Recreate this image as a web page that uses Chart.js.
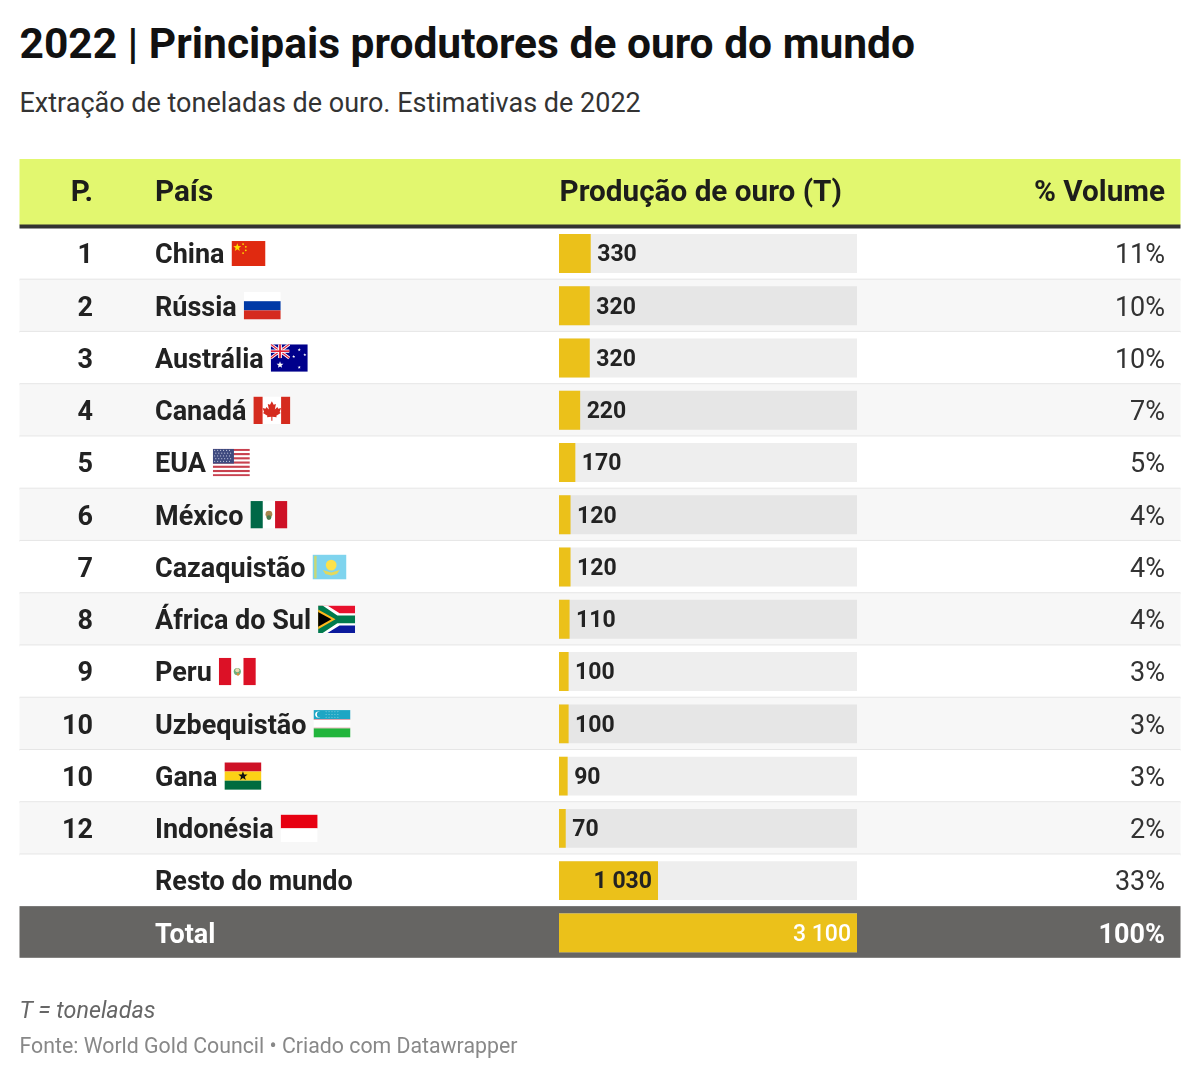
<!DOCTYPE html>
<html lang="pt">
<head>
<meta charset="utf-8">
<title>Principais produtores de ouro do mundo</title>
<script src="https://cdn.jsdelivr.net/npm/chart.js@4"></script>
<style>
    body { margin: 0; background: #fff; font-family: Roboto, sans-serif; }
    .wrap { position: relative; width: 1200px; height: 1078px; overflow: hidden; }
    canvas { position: absolute; left: 0; top: 0; }
    .txt { position: absolute; left: 19.5px; margin: 0; line-height: 1; white-space: nowrap; }
    #title { top: 23px; font-size: 42.5px; font-weight: 700; color: #111; }
    #subtitle { top: 90px; font-size: 27px; font-weight: 400; color: #333; }
    #note { top: 998.5px; font-size: 23.3px; font-style: italic; color: #666; }
    #source { top: 1034.5px; font-size: 21.3px; color: #888; }
</style>
</head>
<body>
<div class="wrap">
    <h1 class="txt" id="title">2022 | Principais produtores de ouro do mundo</h1>
    <p class="txt" id="subtitle">Extração de toneladas de ouro. Estimativas de 2022</p>
    <canvas id="myChart" width="1200" height="1078"></canvas>
    <p class="txt" id="note">T = toneladas</p>
    <p class="txt" id="source">Fonte: World Gold Council • Criado com Datawrapper</p>
</div>
<script>
const ranks = ["1", "2", "3", "4", "5", "6", "7", "8", "9", "10", "10", "12", "", ""];
const countries = ["China", "Rússia", "Austrália", "Canadá", "EUA", "México", "Cazaquistão", "África do Sul", "Peru", "Uzbequistão", "Gana", "Indonésia", "Resto do mundo", "Total"];
const tonnes = [330, 320, 320, 220, 170, 120, 120, 110, 100, 100, 90, 70, 1030, 3100];
const volumes = ["11%", "10%", "10%", "7%", "5%", "4%", "4%", "4%", "3%", "3%", "3%", "2%", "33%", "100%"];
const flagCodes = ["cn", "ru", "au", "ca", "us", "mx", "kz", "za", "pe", "uz", "gh", "id", "", ""];
const headers = ["P.", "País", "Produção de ouro (T)", "% Volume"];
const axisMax = 3100;

const FONT = "Roboto, sans-serif";
const lastRow = countries.length - 1;

// small flag painter, everything in fractions of the flag box
function paintFlag(ctx, code, x, y, w, h) {
    const rect = (c, a, b, cw, ch) => {
        ctx.fillStyle = c;
        ctx.fillRect(x + a * w, y + b * h, cw * w, ch * h);
    };
    const poly = (c, pts) => {
        ctx.fillStyle = c;
        ctx.beginPath();
        pts.forEach((p, i) => ctx[i ? "lineTo" : "moveTo"](x + p[0] * w, y + p[1] * h));
        ctx.closePath();
        ctx.fill();
    };
    const dot = (c, a, b, r) => {
        ctx.fillStyle = c;
        ctx.beginPath();
        ctx.arc(x + a * w, y + b * h, r, 0, Math.PI * 2);
        ctx.fill();
    };
    const star = (c, a, b, r) => {
        ctx.fillStyle = c;
        ctx.beginPath();
        for (let i = 0; i < 10; i++) {
            const rad = i % 2 ? r * 0.42 : r;
            const ang = -Math.PI / 2 + (i * Math.PI) / 5;
            ctx.lineTo(x + a * w + Math.cos(ang) * rad, y + b * h + Math.sin(ang) * rad);
        }
        ctx.closePath();
        ctx.fill();
    };
    const line = (c, lw, a, b, a2, b2) => {
        ctx.strokeStyle = c;
        ctx.lineWidth = lw;
        ctx.beginPath();
        ctx.moveTo(x + a * w, y + b * h);
        ctx.lineTo(x + a2 * w, y + b2 * h);
        ctx.stroke();
    };

    ctx.save();
    ctx.beginPath();
    ctx.rect(x, y, w, h);
    ctx.clip();

    if (code === "cn") {
        rect("#e02a10", 0, 0, 1, 1);
        star("#ffde00", 0.17, 0.26, 4.2);
        [[0.34, 0.12], [0.42, 0.23], [0.42, 0.37], [0.34, 0.48]].forEach((p) => dot("#ffde00", p[0], p[1], 0.9));
    } else if (code === "ru") {
        rect("#ffffff", 0, 0, 1, 1 / 3);
        rect("#0039a6", 0, 1 / 3, 1, 1 / 3);
        rect("#d52b1e", 0, 2 / 3, 1, 1 / 3);
    } else if (code === "au") {
        rect("#00008b", 0, 0, 1, 1);
        line("#fff", 3, 0, 0, 0.5, 0.5);
        line("#fff", 3, 0.5, 0, 0, 0.5);
        line("#e0243a", 1.2, 0, 0, 0.5, 0.5);
        line("#e0243a", 1.2, 0.5, 0, 0, 0.5);
        rect("#fff", 0.2, 0, 0.1, 0.5);
        rect("#fff", 0, 0.19, 0.5, 0.12);
        rect("#e0243a", 0.225, 0, 0.05, 0.5);
        rect("#e0243a", 0, 0.22, 0.5, 0.06);
        star("#fff", 0.25, 0.75, 3.6);
        star("#fff", 0.77, 0.84, 1.7);
        star("#fff", 0.77, 0.2, 1.7);
        star("#fff", 0.62, 0.45, 1.6);
        star("#fff", 0.92, 0.38, 1.6);
    } else if (code === "ca") {
        rect("#fff", 0, 0, 1, 1);
        rect("#d52b1e", 0, 0, 0.25, 1);
        rect("#d52b1e", 0.75, 0, 0.25, 1);
        poly("#d52b1e", [[0.5, 0.17], [0.55, 0.3], [0.61, 0.27], [0.58, 0.47], [0.65, 0.38], [0.67, 0.44], [0.75, 0.42], [0.71, 0.56], [0.74, 0.6], [0.62, 0.7], [0.63, 0.75], [0.515, 0.73], [0.515, 0.88], [0.485, 0.88], [0.485, 0.73], [0.37, 0.75], [0.38, 0.7], [0.26, 0.6], [0.29, 0.56], [0.25, 0.42], [0.33, 0.44], [0.35, 0.38], [0.42, 0.47], [0.39, 0.27], [0.45, 0.3]]);
    } else if (code === "us") {
        rect("#fff", 0, 0, 1, 1);
        for (let i = 0; i < 13; i += 2) rect("#c8414f", 0, i / 13, 1, 1 / 13);
        rect("#3f4a7f", 0, 0, 0.57, 7 / 13);
        for (let r = 0; r < 5; r++) {
            for (let c = 0; c < 6; c++) dot("#b9bdd4", 0.05 + c * 0.08 + (r % 2) * 0.03, 0.06 + r * 0.1, 0.6);
        }
    } else if (code === "mx") {
        rect("#fff", 0, 0, 1, 1);
        rect("#006847", 0, 0, 1 / 3, 1);
        rect("#ce1126", 2 / 3, 0, 1 / 3, 1);
        dot("#a8864f", 0.5, 0.48, 3.4);
        dot("#4f7a4a", 0.5, 0.6, 2.4);
    } else if (code === "kz") {
        rect("#7fd4ee", 0, 0, 1, 1);
        rect("#c9d873", 0.05, 0.05, 0.07, 0.9);
        dot("#fde24a", 0.55, 0.42, 5.4);
        poly("#e3d95c", [[0.3, 0.62], [0.55, 0.72], [0.8, 0.62], [0.72, 0.78], [0.55, 0.84], [0.38, 0.78]]);
    } else if (code === "za") {
        rect("#e8112d", 0, 0, 1, 0.5);
        rect("#0b1a9c", 0, 0.5, 1, 0.5);
        poly("#fff", [[0, 0], [0.25, 0], [0.58, 0.28], [1, 0.28], [1, 0.72], [0.58, 0.72], [0.25, 1], [0, 1]]);
        poly("#007a4d", [[0, 0], [0.12, 0], [0.52, 0.36], [1, 0.36], [1, 0.64], [0.52, 0.64], [0.12, 1], [0, 1]]);
        poly("#ffb81c", [[0, 0.14], [0.47, 0.5], [0, 0.86]]);
        poly("#000", [[0, 0.23], [0.36, 0.5], [0, 0.77]]);
    } else if (code === "pe") {
        rect("#fff", 0, 0, 1, 1);
        rect("#dc1126", 0, 0, 1 / 3, 1);
        rect("#dc1126", 2 / 3, 0, 1 / 3, 1);
        dot("#6fae7a", 0.5, 0.5, 3.6);
        dot("#ecd9b0", 0.5, 0.45, 2);
        dot("#e08a3a", 0.52, 0.6, 1.3);
    } else if (code === "uz") {
        rect("#1ea6c4", 0, 0, 1, 1 / 3);
        rect("#e98a94", 0, 1 / 3, 1, 0.025);
        rect("#fff", 0, 0.36, 1, 0.28);
        rect("#e98a94", 0, 0.64, 1, 0.025);
        rect("#21b53c", 0, 2 / 3, 1, 1 / 3);
        dot("#fff", 0.13, 0.16, 3.1);
        dot("#1ea6c4", 0.17, 0.16, 2.9);
        for (let r = 0; r < 3; r++) {
            for (let c = 0; c < 5; c++) dot("#d8f0f5", 0.34 + c * 0.08, 0.06 + r * 0.1, 0.45);
        }
    } else if (code === "gh") {
        rect("#ce1126", 0, 0, 1, 1 / 3);
        rect("#fcd116", 0, 1 / 3, 1, 1 / 3);
        rect("#006b3f", 0, 2 / 3, 1, 1 / 3);
        star("#111", 0.5, 0.5, 4.8);
    } else if (code === "id") {
        rect("#e70011", 0, 0, 1, 0.5);
        rect("#fff", 0, 0.5, 1, 0.5);
    }
    ctx.restore();
}

// rows, header band and total row go under the bars
const tableBackground = {
    id: "tableBackground",
    beforeDraw(chart) {
        const { ctx, scales } = chart;
        const half = (scales.y.getPixelForValue(1) - scales.y.getPixelForValue(0)) / 2;
        countries.forEach((name, i) => {
            const mid = scales.y.getPixelForValue(i);
            ctx.fillStyle = i === lastRow ? "#666563" : i % 2 ? "#f7f7f7" : "#ffffff";
            ctx.fillRect(19.5, mid - half - (i === lastRow ? 0.6 : 0), 1161, half * 2 - (i === lastRow ? 0.6 : 0));
            if (i < lastRow - 1) {
                ctx.fillStyle = "#e6e6e6";
                ctx.fillRect(19.5, mid + half - 1, 1161, 2);
            }
        });
        ctx.fillStyle = "#e2f76f";
        ctx.fillRect(19.5, 159, 1161, 66);
        ctx.fillStyle = "#333330";
        ctx.fillRect(19.5, 224.5, 1161, 4);
    },
};

// ranks, names, value labels, percentages, flags and the column headers
const tableText = {
    id: "tableText",
    afterDraw(chart) {
        const { ctx, scales } = chart;
        const bars = chart.getDatasetMeta(0).data;
        ctx.save();
        ctx.textBaseline = "middle";

        ctx.fillStyle = "#1d1d1b";
        ctx.font = `700 29.7px ${FONT}`;
        ctx.textAlign = "right";
        ctx.fillText(headers[0], 93, 194);
        ctx.fillText(headers[3], 1165, 194);
        ctx.textAlign = "left";
        ctx.fillText(headers[1], 155, 194);
        ctx.fillText(headers[2], 559.5, 194);

        countries.forEach((name, i) => {
            const row = scales.y.getPixelForValue(i);
            const mid = row + 3;
            const onDark = i === lastRow;

            ctx.fillStyle = "#222";
            ctx.font = `700 27px ${FONT}`;
            ctx.textAlign = "right";
            ctx.fillText(ranks[i], 93, mid);

            ctx.fillStyle = onDark ? "#fff" : "#333";
            ctx.font = `${onDark ? 700 : 400} 27px ${FONT}`;
            ctx.fillText(volumes[i], 1165, mid);

            // big bars keep the label inside, the rest sit right after the bar
            const inside = tonnes[i] >= 1000;
            ctx.fillStyle = onDark ? "#fff" : "#222";
            ctx.font = `${onDark ? 500 : 700} 23px ${FONT}`;
            ctx.textAlign = inside ? "right" : "left";
            const label = String(tonnes[i]).replace(/\B(?=(\d{3})+$)/g, " ");
            ctx.fillText(label, bars[i].x + (inside ? -6 : 6.5), mid - 1);

            ctx.fillStyle = onDark ? "#fff" : "#222";
            ctx.font = `700 27px ${FONT}`;
            ctx.textAlign = "left";
            ctx.fillText(scales.y.getLabelForValue(i), 155, mid);

            if (flagCodes[i]) {
                const small = flagCodes[i] === "cn" || flagCodes[i] === "kz";
                const w = small ? 34 : 37;
                const h = small ? 25 : 27.5;
                const left = 155 + ctx.measureText(name).width + 7;
                paintFlag(ctx, flagCodes[i], left, row - h / 2, w, h);
            }
        });
        ctx.restore();
    },
};

const ctx = document.getElementById("myChart");

new Chart(ctx, {
    type: "bar",
    data: {
        labels: countries,
        datasets: [
            {
                label: "Produção de ouro (T)",
                data: tonnes,
                backgroundColor: "#ebc11a",
                barPercentage: 0.745,
                categoryPercentage: 1,
                grouped: false,
            },
            {
                label: "Fundo",
                data: tonnes.map(() => axisMax),
                backgroundColor: countries.map((c, i) => (i % 2 ? "#e6e6e6" : "#eeeeee")),
                barPercentage: 0.745,
                categoryPercentage: 1,
                grouped: false,
            },
        ],
    },
    options: {
        indexAxis: "y",
        responsive: false,
        animation: false,
        layout: {
            padding: { left: 559, right: 343, top: 227.4, bottom: 119 },
        },
        plugins: {
            legend: { display: false },
            title: { display: false },
            tooltip: { enabled: false },
        },
        scales: {
            x: {
                display: false,
                min: 0,
                max: axisMax,
            },
            y: {
                display: false,
            },
        },
    },
    plugins: [tableBackground, tableText],
});
</script>
</body>
</html>
